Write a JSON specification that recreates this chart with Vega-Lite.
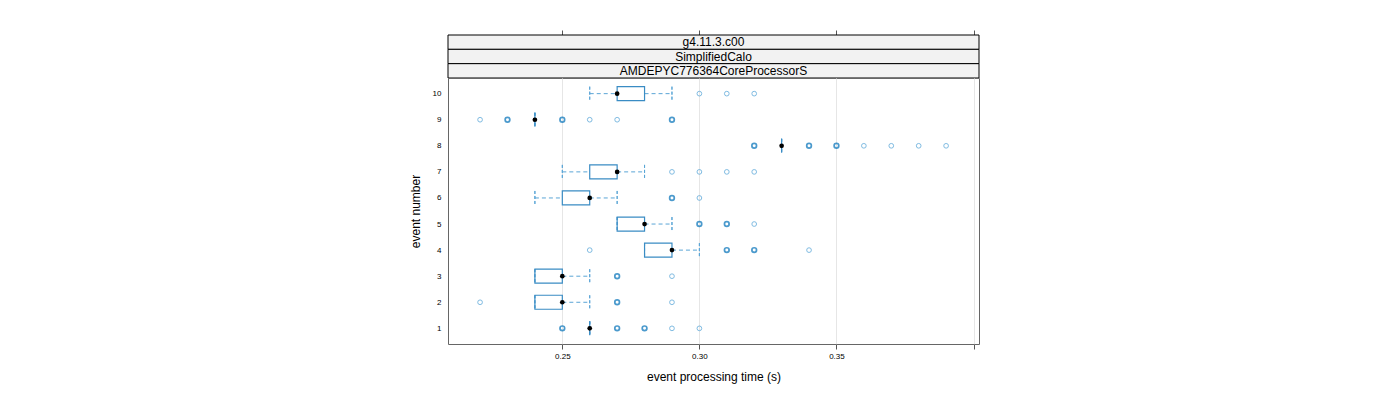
{
  "$schema": "https://vega.github.io/schema/vega-lite/v6.json",
  "padding": {"left": 408, "top": 29, "right": 5, "bottom": 5},
  "background": "white",
  "spacing": 0,
  "bounds": "flush",
  "config": {"font": "Liberation Sans", "view": {"stroke": null}, "concat": {"spacing": 0}},
  "datasets": {
    "strips": [
      {"order": 1, "label": "g4.11.3.c00"},
      {"order": 2, "label": "SimplifiedCalo"},
      {"order": 3, "label": "AMDEPYC776364CoreProcessorS"}
    ],
    "ticks": [{"v": 0.25}, {"v": 0.30}, {"v": 0.35}, {"v": 0.40}],
    "boxes": [
      {"event": 10, "lo": 0.26, "q1": 0.27, "med": 0.27, "q3": 0.28, "hi": 0.29},
      {"event": 9, "lo": 0.24, "q1": 0.24, "med": 0.24, "q3": 0.24, "hi": 0.24},
      {"event": 8, "lo": 0.33, "q1": 0.33, "med": 0.33, "q3": 0.33, "hi": 0.33},
      {"event": 7, "lo": 0.25, "q1": 0.26, "med": 0.27, "q3": 0.27, "hi": 0.28},
      {"event": 6, "lo": 0.24, "q1": 0.25, "med": 0.26, "q3": 0.26, "hi": 0.27},
      {"event": 5, "lo": 0.27, "q1": 0.27, "med": 0.28, "q3": 0.28, "hi": 0.29},
      {"event": 4, "lo": 0.28, "q1": 0.28, "med": 0.29, "q3": 0.29, "hi": 0.30},
      {"event": 3, "lo": 0.24, "q1": 0.24, "med": 0.25, "q3": 0.25, "hi": 0.26},
      {"event": 2, "lo": 0.24, "q1": 0.24, "med": 0.25, "q3": 0.25, "hi": 0.26},
      {"event": 1, "lo": 0.26, "q1": 0.26, "med": 0.26, "q3": 0.26, "hi": 0.26}
    ],
    "outliers": [
      {"event": 10, "t": 0.30, "n": 1}, {"event": 10, "t": 0.31, "n": 1}, {"event": 10, "t": 0.32, "n": 1},
      {"event": 9, "t": 0.22, "n": 1}, {"event": 9, "t": 0.23, "n": 2}, {"event": 9, "t": 0.25, "n": 2},
      {"event": 9, "t": 0.26, "n": 1}, {"event": 9, "t": 0.27, "n": 1}, {"event": 9, "t": 0.29, "n": 2},
      {"event": 8, "t": 0.32, "n": 2}, {"event": 8, "t": 0.34, "n": 2}, {"event": 8, "t": 0.35, "n": 2},
      {"event": 8, "t": 0.36, "n": 1}, {"event": 8, "t": 0.37, "n": 1}, {"event": 8, "t": 0.38, "n": 1},
      {"event": 8, "t": 0.39, "n": 1},
      {"event": 7, "t": 0.29, "n": 1}, {"event": 7, "t": 0.30, "n": 1}, {"event": 7, "t": 0.31, "n": 1},
      {"event": 7, "t": 0.32, "n": 1},
      {"event": 6, "t": 0.29, "n": 2}, {"event": 6, "t": 0.30, "n": 1},
      {"event": 5, "t": 0.30, "n": 2}, {"event": 5, "t": 0.31, "n": 2}, {"event": 5, "t": 0.32, "n": 1},
      {"event": 4, "t": 0.26, "n": 1}, {"event": 4, "t": 0.31, "n": 2}, {"event": 4, "t": 0.32, "n": 2},
      {"event": 4, "t": 0.34, "n": 1},
      {"event": 3, "t": 0.27, "n": 2}, {"event": 3, "t": 0.29, "n": 1},
      {"event": 2, "t": 0.22, "n": 1}, {"event": 2, "t": 0.27, "n": 2}, {"event": 2, "t": 0.29, "n": 1},
      {"event": 1, "t": 0.25, "n": 2}, {"event": 1, "t": 0.27, "n": 2}, {"event": 1, "t": 0.28, "n": 2},
      {"event": 1, "t": 0.29, "n": 1}, {"event": 1, "t": 0.30, "n": 1}
    ]
  },
  "vconcat": [
    {
      "width": 531,
      "height": 43,
      "view": {"stroke": null},
      "layer": [
        {
          "data": {"name": "strips"},
          "mark": {"type": "rect", "fill": "#f2f2f2", "stroke": "#000000", "strokeWidth": 1},
          "encoding": {
            "y": {"field": "label", "type": "nominal", "sort": {"field": "order"}, "scale": {"paddingInner": 0, "paddingOuter": 0}, "axis": null},
            "x": {"datum": 0.2083, "type": "quantitative"},
            "x2": {"datum": 0.402}
          }
        },
        {
          "data": {"name": "strips"},
          "mark": {"type": "text", "fontSize": 12, "color": "#000000", "baseline": "middle", "align": "center"},
          "encoding": {
            "y": {"field": "label", "type": "nominal", "sort": {"field": "order"}, "axis": null},
            "x": {"datum": 0.30515, "type": "quantitative"},
            "text": {"field": "label"}
          }
        },
        {
          "data": {"name": "ticks"},
          "mark": {"type": "point", "opacity": 0},
          "encoding": {
            "x": {
              "field": "v", "type": "quantitative",
              "scale": {"domain": [0.2083, 0.402], "nice": false, "zero": false},
              "axis": {"orient": "top", "values": [0.25, 0.3, 0.35, 0.4], "labels": false, "domain": false, "grid": false, "tickSize": 5, "tickColor": "#555555", "title": null}
            },
            "y": {"value": 0}
          }
        }
      ]
    },
    {
      "width": 531,
      "height": 266,
      "view": {"stroke": "#666666", "strokeWidth": 1},
      "encoding": {
        "y": {
          "field": "event", "type": "ordinal", "sort": "descending",
          "scale": {"type": "point", "padding": 0.6},
          "axis": {"title": "event number", "titleFontSize": 12, "titleFontWeight": "normal", "titleColor": "#000000", "labelFontSize": 8, "labelColor": "#000000", "tickSize": 0, "domain": false, "grid": false, "labelPadding": 7, "titlePadding": 10}
        }
      },
      "layer": [
        {
          "data": {"name": "boxes"},
          "mark": {"type": "rule", "stroke": "#5aa5d6", "strokeWidth": 1, "strokeDash": [4, 3]},
          "encoding": {
            "x": {
              "field": "lo", "type": "quantitative",
              "scale": {"domain": [0.2083, 0.402], "nice": false, "zero": false},
              "axis": {"orient": "bottom", "values": [0.25, 0.3, 0.35, 0.4], "labelExpr": "datum.value < 0.39 ? format(datum.value, '.2f') : ''", "grid": true, "gridColor": "#e6e6e6", "tickSize": 5, "tickColor": "#555555", "domain": false, "labelFontSize": 8, "labelColor": "#000000", "labelPadding": 3, "title": "event processing time (s)", "titleFontSize": 12, "titleFontWeight": "normal", "titleColor": "#000000", "titlePadding": 11}
            },
            "x2": {"field": "q1"}
          }
        },
        {
          "data": {"name": "boxes"},
          "mark": {"type": "rule", "stroke": "#5aa5d6", "strokeWidth": 1, "strokeDash": [4, 3]},
          "encoding": {
            "x": {"field": "q3", "type": "quantitative"},
            "x2": {"field": "hi"}
          }
        },
        {
          "data": {"name": "boxes"},
          "mark": {"type": "bar", "orient": "horizontal", "height": 14, "fill": null, "fillOpacity": 0, "stroke": "#5aa5d6", "strokeWidth": 1, "strokeDash": [3, 2]},
          "encoding": {
            "x": {"field": "lo", "type": "quantitative"},
            "x2": {"field": "lo"}
          }
        },
        {
          "data": {"name": "boxes"},
          "mark": {"type": "bar", "orient": "horizontal", "height": 14, "fill": null, "fillOpacity": 0, "stroke": "#5aa5d6", "strokeWidth": 1, "strokeDash": [3, 2]},
          "encoding": {
            "x": {"field": "hi", "type": "quantitative"},
            "x2": {"field": "hi"}
          }
        },
        {
          "data": {"name": "boxes"},
          "mark": {"type": "bar", "orient": "horizontal", "height": 14, "fill": "#ffffff", "fillOpacity": 0, "stroke": "#3a8cc4", "strokeWidth": 1.2},
          "encoding": {
            "x": {"field": "q1", "type": "quantitative"},
            "x2": {"field": "q3"}
          }
        },
        {
          "data": {"name": "outliers"},
          "mark": {"type": "point", "shape": "circle", "filled": false, "size": 22, "strokeWidth": 1.1},
          "encoding": {
            "x": {"field": "t", "type": "quantitative"},
            "color": {"field": "n", "type": "ordinal", "scale": {"domain": [1, 2], "range": ["#4a9fd6", "#0070b8"]}, "legend": null},
            "strokeWidth": {"field": "n", "type": "ordinal", "scale": {"domain": [1, 2], "range": [1, 1.7]}, "legend": null}
          }
        },
        {
          "data": {"name": "boxes"},
          "mark": {"type": "point", "shape": "circle", "filled": true, "size": 22, "color": "#000000", "opacity": 1},
          "encoding": {
            "x": {"field": "med", "type": "quantitative"}
          }
        }
      ]
    }
  ]
}
